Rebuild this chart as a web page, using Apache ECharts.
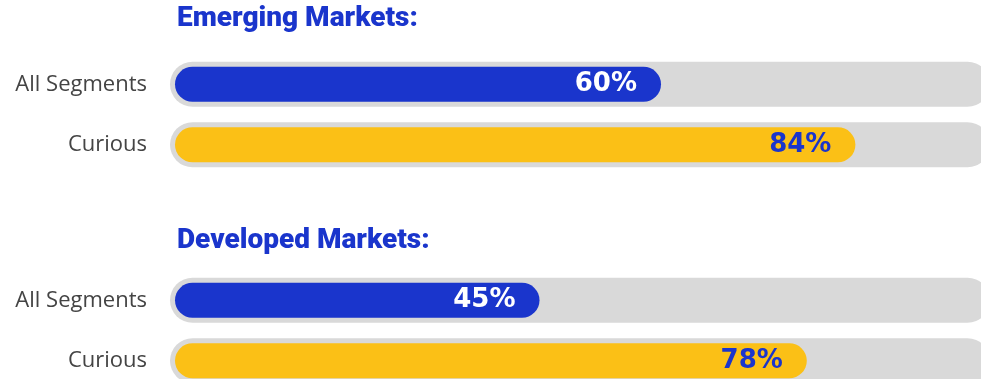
<!DOCTYPE html>
<html>
<head>
<meta charset="utf-8">
<script src="https://cdn.jsdelivr.net/npm/echarts@6/dist/echarts.min.js"></script>
<style>
  html, body { margin: 0; padding: 0; background: #ffffff; }
  #chart { width: 981px; height: 379px; }
</style>
</head>
<body>
<div id="chart"></div>
<script>
// Segment labels shared by both market groups
const categories = ['All Segments', 'Curious'];
// Share (%) per segment
const emergingValues = [60, 84];
const developedValues = [45, 78];
// Group headings
const groupTitles = ['Emerging Markets:', 'Developed Markets:'];
// Full-scale value used for the grey tracks
const trackMax = 100;

const BLUE = '#1a35cc';
const YELLOW = '#fbc016';
const TRACK = '#d9d9d9';

const groups = [
  { values: emergingValues, top: 54 },
  { values: developedValues, top: 270 }
];

const grids = [], xAxes = [], yAxes = [], series = [];

groups.forEach((g, gi) => {
  const trackIdx = gi * 2;
  const barIdx = gi * 2 + 1;
  // track grid (slightly wider than the bar grid so the track frames the bar)
  grids.push({ left: 170, width: 820, top: g.top, height: 121, outerBoundsMode: 'none', containLabel: false });
  grids.push({ left: 175, width: 810, top: g.top, height: 121, outerBoundsMode: 'none', containLabel: false });

  [trackIdx, barIdx].forEach(idx => {
    xAxes.push({
      type: 'value', gridIndex: idx, min: 0, max: trackMax,
      show: false
    });
    yAxes.push({
      type: 'category', gridIndex: idx, data: categories, inverse: true,
      axisLine: { show: false }, axisTick: { show: false },
      axisLabel: {
        show: idx === barIdx,
        margin: 28,
        fontFamily: 'Open Sans',
        fontWeight: 400,
        fontSize: 22,
        color: '#444444'
      }
    });
  });

  series.push({
    type: 'bar', xAxisIndex: trackIdx, yAxisIndex: trackIdx,
    data: categories.map(() => trackMax),
    barWidth: 45,
    itemStyle: { color: TRACK, borderRadius: 22.5 },
    silent: true, animation: false
  });

  series.push({
    type: 'bar', xAxisIndex: barIdx, yAxisIndex: barIdx,
    data: g.values.map((v, i) => ({
      value: v,
      itemStyle: { color: i === 0 ? BLUE : YELLOW },
      label: { color: i === 0 ? '#ffffff' : BLUE }
    })),
    barWidth: 35,
    itemStyle: { borderRadius: 17.5 },
    label: {
      show: true,
      position: 'insideRight',
      distance: 24,
      formatter: '{c}%',
      fontFamily: 'DejaVu Sans',
      fontWeight: 'bold',
      fontSize: 26
    },
    animation: false
  });
});

const chart = echarts.init(document.getElementById('chart'), null, { renderer: 'canvas' });
chart.setOption({
  backgroundColor: '#ffffff',
  title: groupTitles.map((t, i) => ({
    text: t,
    left: 177,
    top: i === 0 ? 5 : 227,
    padding: 0,
    textStyle: {
      fontFamily: 'Roboto',
      fontWeight: 900,
      fontSize: 28,
      color: BLUE
    }
  })),
  grid: grids,
  xAxis: xAxes,
  yAxis: yAxes,
  series: series
});
</script>
</body>
</html>
